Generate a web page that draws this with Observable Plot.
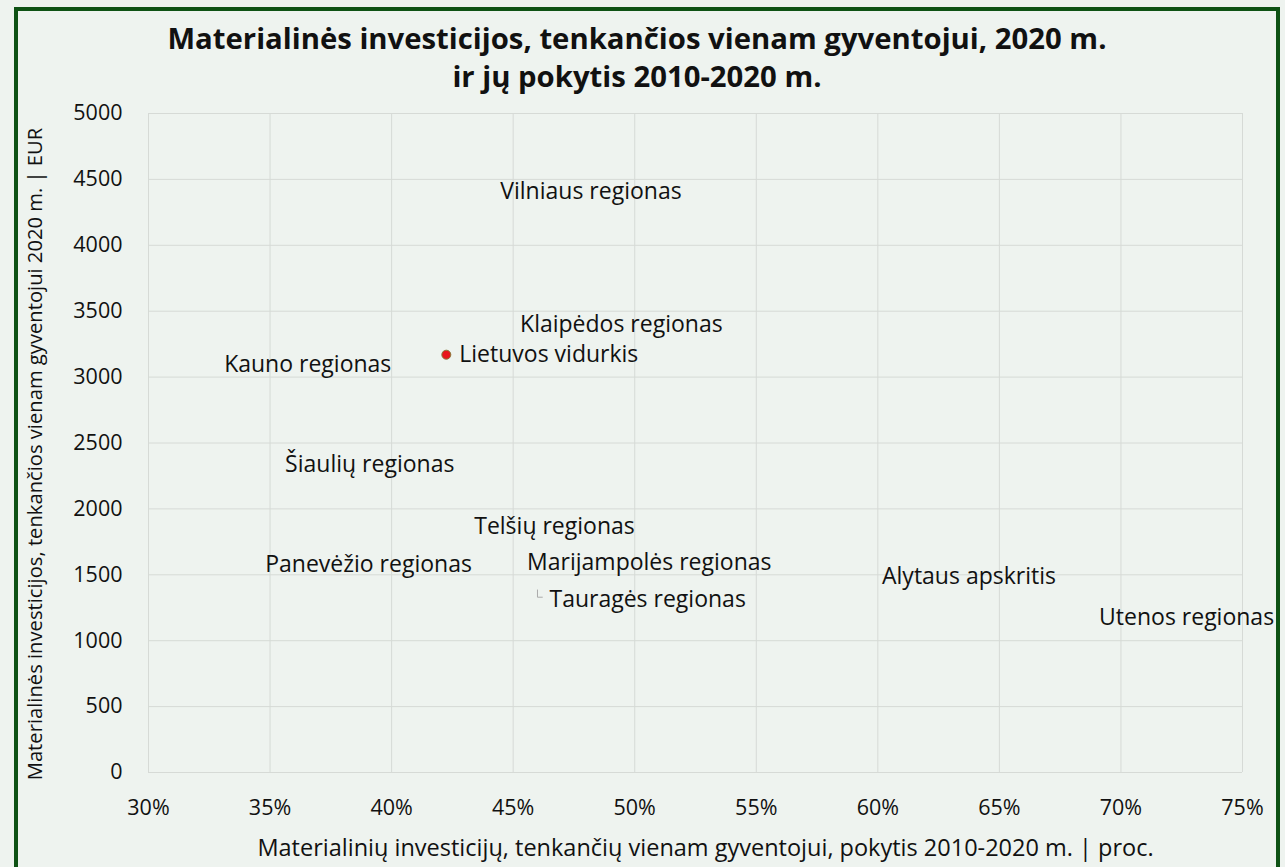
<!DOCTYPE html>
<html>
<head>
<meta charset="utf-8">
<script src="https://cdn.jsdelivr.net/npm/d3@7"></script>
<script src="https://cdn.jsdelivr.net/npm/@observablehq/plot@0.6"></script>
<style>
  html, body { margin: 0; padding: 0; background: #eef3ef; }
  #wrap { position: relative; width: 1285px; height: 867px; overflow: hidden; background: #eef3ef; font-family: "Open Sans", "Noto Sans", sans-serif; }
  #frame { position: absolute; left: 14px; top: 7px; width: 1266px; height: 900px; border: 4px solid #0e5214; box-sizing: border-box; pointer-events: none; }
  #title { position: absolute; left: 0; top: 19px; width: 1274px; text-align: center; font-weight: 700; font-size: 29.3px; line-height: 38px; color: #111; }
  #chart { position: absolute; left: 0; top: 0; }
  #chart svg g[aria-label="x-axis tick label"] text, #chart svg g[aria-label="y-axis tick label"] text { font-size: 21.5px; }
  #chart svg g[aria-label="x-axis label"] { font-size: 23.5px; translate: 10px 0px; }
  #chart svg g[aria-label="y-axis label"] { font-size: 20.2px; translate: 0px 11px; }
</style>
</head>
<body>
<div id="wrap">
  <div id="chart"></div>
  <div id="title">Materialinės investicijos, tenkančios vienam gyventojui, 2020 m.<br>ir jų pokytis 2010-2020 m.</div>
  <div id="frame"></div>
</div>
<script>
// Regions (label positions)
const regions = ["Vilniaus regionas", "Klaipėdos regionas", "Kauno regionas", "Šiaulių regionas", "Telšių regionas", "Panevėžio regionas", "Marijampolės regionas", "Alytaus apskritis", "Utenos regionas"];
const change = [48.2, 49.45, 36.55, 39.1, 46.7, 39.05, 50.6, 63.75, 72.7];     // % change 2010-2020
const perCapita = [4410, 3395, 3095, 2335, 1865, 1580, 1595, 1485, 1175];    // EUR per capita 2020

// Tauragės (label right of point with leader)
const taurageName = "Tauragės regionas";
const taurageChange = 46.0;
const taurageValue = 1385;

// National average
const avgName = "Lietuvos vidurkis";
const avgChange = 42.25;
const avgValue = 3170;

const xTicks = [30, 35, 40, 45, 50, 55, 60, 65, 70, 75];
const yTicks = [0, 500, 1000, 1500, 2000, 2500, 3000, 3500, 4000, 4500, 5000];

const labelData = regions.map((r, i) => ({name: r, x: change[i], y: perCapita[i]}));
const taurage = [{name: taurageName, x: taurageChange, y: taurageValue}];
const avg = [{name: avgName, x: avgChange, y: avgValue}];
const leader = [
  {x: taurageChange, y: taurageValue},
  {x: taurageChange, y: taurageValue - 55},
  {x: taurageChange + 0.2, y: taurageValue - 55}
];

const chart = Plot.plot({
  width: 1285,
  height: 867,
  marginLeft: 148,
  marginRight: 43,
  marginTop: 113,
  marginBottom: 95,
  style: {background: "transparent", fontFamily: "'Open Sans', 'Noto Sans', sans-serif", color: "#111", fontSize: "21.5px"},
  x: {domain: [30, 75]},
  y: {domain: [0, 5000]},
  marks: [
    Plot.gridX(xTicks, {stroke: "#d6dad6", strokeOpacity: 1, strokeWidth: 1}),
    Plot.gridY(yTicks, {stroke: "#d6dad6", strokeOpacity: 1, strokeWidth: 1}),
    Plot.axisX({ticks: xTicks, tickFormat: d => d + "%", tickSize: 0, tickPadding: 27, fill: "#111",
      label: "Materialinių investicijų, tenkančių vienam gyventojui, pokytis 2010-2020 m. | proc.", labelAnchor: "center", labelArrow: "none", labelOffset: 83}),
    Plot.axisY({ticks: yTicks, tickFormat: d => String(d), tickSize: 0, tickPadding: 26, fill: "#111",
      label: "Materialinės investicijos, tenkančios vienam gyventojui 2020 m. | EUR", labelAnchor: "center", labelArrow: "none", labelOffset: 121}),
    Plot.text(labelData, {x: "x", y: "y", text: "name", fontSize: 23, fill: "#111", textAnchor: "middle"}),
    Plot.line(leader, {x: "x", y: "y", stroke: "#aaaaaa", strokeWidth: 1}),
    Plot.text(taurage, {x: "x", y: "y", text: "name", fontSize: 23, fill: "#111", textAnchor: "start", dx: 12, dy: 10}),
    Plot.dot(avg, {x: "x", y: "y", r: 4.5, fill: "#e8161b", stroke: "#8a7a3a", strokeWidth: 1}),
    Plot.text(avg, {x: "x", y: "y", text: "name", fontSize: 23, fill: "#111", textAnchor: "start", dx: 13})
  ]
});
document.getElementById("chart").appendChild(chart);
</script>
</body>
</html>
